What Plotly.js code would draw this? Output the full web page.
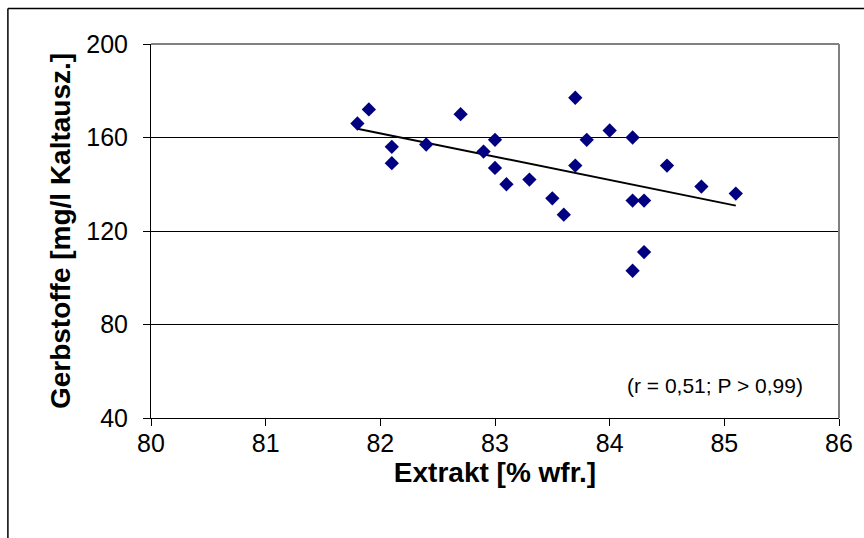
<!DOCTYPE html>
<html>
<head>
<meta charset="utf-8">
<script src="https://cdn.plot.ly/plotly-3.0.1.min.js"></script>
<style>
  html, body { margin: 0; padding: 0; background: #fff; }
  #chart { width: 864px; height: 538px; }
</style>
</head>
<body>
<div id="chart"></div>
<script>
// Extrakt (% wfr.) against Gerbstoffe (mg/l Kaltauszug), one point per sample
const extrakt = [81.8, 81.9, 82.1, 82.1, 82.4, 82.7, 82.9, 83.0, 83.0, 83.1, 83.3, 83.5, 83.6,
                 83.7, 83.7, 83.8, 84.0, 84.2, 84.2, 84.3, 84.5, 84.8, 85.1, 84.2, 84.3];
const gerbstoffe = [166, 172, 156, 149, 157, 170, 154, 159, 147, 140, 142, 134, 127,
                    177, 148, 159, 163, 160, 133, 133, 148, 139, 136, 103, 111];
const xTicks = [80, 81, 82, 83, 84, 85, 86];
const yTicks = [40, 80, 120, 160, 200];
const statsLabel = '(r = 0,51; P > 0,99)';

// least-squares trend line over the observed x span
const n = extrakt.length;
const mx = extrakt.reduce((a, b) => a + b, 0) / n;
const my = gerbstoffe.reduce((a, b) => a + b, 0) / n;
let sxy = 0, sxx = 0;
for (let i = 0; i < n; i++) {
  sxy += (extrakt[i] - mx) * (gerbstoffe[i] - my);
  sxx += (extrakt[i] - mx) ** 2;
}
const slope = sxy / sxx;
const icpt = my - slope * mx;
const xMin = Math.min(...extrakt), xMax = Math.max(...extrakt);
const trendX = [xMin, xMax];
const trendY = trendX.map(v => icpt + slope * v);

const font = 'Liberation Sans, Arial, sans-serif';

const traces = [
  {
    x: trendX, y: trendY, mode: 'lines', type: 'scatter',
    line: { color: '#000000', width: 2 }, hoverinfo: 'skip'
  },
  {
    x: extrakt, y: gerbstoffe, mode: 'markers', type: 'scatter',
    marker: { symbol: 'diamond', size: 11, color: '#000080', line: { width: 0 } }
  }
];

const layout = {
  width: 864, height: 538,
  margin: { l: 151, r: 25, t: 44, b: 120 },
  paper_bgcolor: '#ffffff', plot_bgcolor: '#ffffff',
  showlegend: false,
  font: { family: font, color: '#000000' },
  xaxis: {
    range: [80, 86], tickvals: xTicks, ticktext: xTicks.map(String),
    showgrid: false, zeroline: false,
    showline: true, linecolor: '#000000', linewidth: 1,
    ticks: 'outside', ticklen: 7, tickcolor: '#000000', tickwidth: 1,
    ticklabelstandoff: -4,
    tickfont: { family: font, size: 25, color: '#000000' },
    title: { text: '<b>Extrakt [% wfr.]</b>', font: { family: font, size: 28, color: '#000000' }, standoff: 0 }
  },
  yaxis: {
    range: [40, 200], tickvals: yTicks, ticktext: yTicks.map(String),
    showgrid: true, gridcolor: '#000000', gridwidth: 1, zeroline: false,
    showline: true, linecolor: '#000000', linewidth: 1,
    ticks: 'outside', ticklen: 7, tickcolor: '#000000', tickwidth: 1,
    ticklabelstandoff: 10,
    tickfont: { family: font, size: 25, color: '#000000' },
    title: { text: '<b>Gerbstoffe [mg/l Kaltausz.]</b>', font: { family: font, size: 28, color: '#000000' }, standoff: 7 }
  },
  shapes: [
    // plot frame: grey top and right edges
    { type: 'line', xref: 'paper', yref: 'paper', x0: 0, x1: 1, y0: 1, y1: 1, line: { color: '#808080', width: 2 }, layer: 'above' },
    { type: 'line', xref: 'paper', yref: 'paper', x0: 1, x1: 1, y0: 0, y1: 1, line: { color: '#808080', width: 2 }, layer: 'above' },
    // chart area border (top and left)
    { type: 'line', xref: 'paper', yref: 'paper', x0: -0.208, x1: 1.04, y0: 1.0948, y1: 1.0948, line: { color: '#000000', width: 1.5 } },
    { type: 'line', xref: 'paper', yref: 'paper', x0: -0.208, x1: -0.208, y0: 1.0948, y1: -0.33, line: { color: '#000000', width: 1.5 } }
  ],
  annotations: [
    { text: statsLabel, xref: 'paper', yref: 'paper', x: 0.820, y: 0.086, showarrow: false,
      xanchor: 'center', yanchor: 'middle', font: { family: font, size: 21, color: '#000000' } }
  ]
};

Plotly.newPlot('chart', traces, layout, { displayModeBar: false, staticPlot: true });
</script>
</body>
</html>
